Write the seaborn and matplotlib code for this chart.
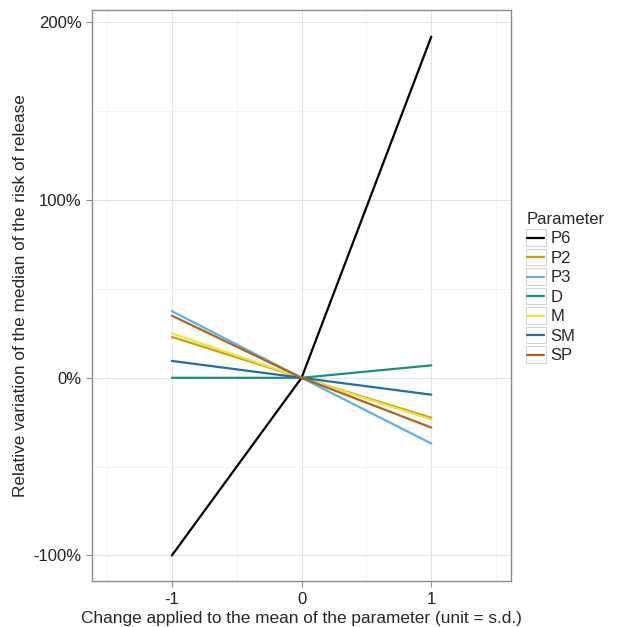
import numpy as np
import pandas as pd
import matplotlib
matplotlib.use("Agg")
import matplotlib.pyplot as plt
import seaborn as sns
from matplotlib.ticker import FuncFormatter, MultipleLocator
from matplotlib.legend_handler import HandlerLine2D
from matplotlib.patches import Rectangle

# ---------- data ----------
params = ['P6', 'P2', 'P3', 'D', 'M', 'SM', 'SP']
shift = [-1, 0, 1]
p6 = [-100, 0, 192]
p2 = [23, 0, -22.5]
p3 = [37.5, 0, -37]
d = [0, 0, 7]
m = [25, 0, -23.5]
sm = [9.5, 0, -9.5]
sp = [35, 0, -28]
colors = ['#000000', '#C9A200', '#56B4E9', '#16937A', '#EFE23F', '#1F6FA8', '#B4611E']

series = dict(zip(params, [p6, p2, p3, d, m, sm, sp]))
df = pd.DataFrame([
    {'Parameter': p, 'shift': x, 'value': v}
    for p, vals in series.items() for x, v in zip(shift, vals)
])


# legend key with a grey box behind the line, like ggplot
class BoxedLine(HandlerLine2D):
    def create_artists(self, legend, orig_handle, xdescent, ydescent,
                       width, height, fontsize, trans):
        arts = super().create_artists(legend, orig_handle, xdescent, ydescent,
                                      width, height, fontsize, trans)
        gap = legend.labelspacing * fontsize
        yc = (height - ydescent) / 2
        h = height + gap + 0.3
        rect = Rectangle((-xdescent - 1, yc - h / 2), width + 2, h,
                         facecolor='white', edgecolor='#D5D5D5', linewidth=0.8,
                         transform=trans)
        return [rect] + arts


sns.set_style("white")
plt.rcParams['font.family'] = ['Liberation Sans', 'DejaVu Sans']

fig = plt.figure(figsize=(6.18, 6.27), dpi=100)
ax = fig.add_axes([0.149, 0.073, 0.678, 0.911])

sns.lineplot(data=df, x='shift', y='value', hue='Parameter', hue_order=params,
             palette=dict(zip(params, colors)), linewidth=1.6, ax=ax)

ax.set_xlim(-1.615, 1.615)
ax.set_ylim(-114.5, 207)
ax.xaxis.set_major_locator(MultipleLocator(1))
ax.xaxis.set_minor_locator(MultipleLocator(0.5))
ax.yaxis.set_major_locator(MultipleLocator(100))
ax.yaxis.set_minor_locator(MultipleLocator(50))
ax.yaxis.set_major_formatter(FuncFormatter(lambda v, _: f'{v:.0f}%'))
ax.xaxis.set_major_formatter(FuncFormatter(lambda v, _: f'{v:.0f}'))
ax.grid(which='major', color='#E3E3E3', linewidth=0.8)
ax.grid(which='minor', color='#F2F2F2', linewidth=0.6)
ax.set_axisbelow(True)
for s in ax.spines.values():
    s.set_color('#8C8C8C')
    s.set_linewidth(1.0)
ax.tick_params(which='major', length=4, color='#8C8C8C', labelsize=12,
               labelcolor='#222222', direction='out', bottom=True, left=True)
ax.tick_params(which='minor', length=0)

ax.set_xlabel('Change applied to the mean of the parameter (unit = s.d.)',
              fontsize=12.4, labelpad=3)
ax.set_ylabel('Relative variation of the median of the risk of release',
              fontsize=12.4, labelpad=4)

handles, labels = ax.get_legend_handles_labels()
leg = ax.legend(handles, labels, title='Parameter', loc='upper left',
                bbox_to_anchor=(1.01, 0.667), frameon=False,
                fontsize=12, title_fontsize=12,
                handlelength=1.05, handletextpad=0.35, labelspacing=0.27,
                alignment='left', borderaxespad=0.3,
                handler_map={type(handles[0]): BoxedLine()})

fig.savefig('out.png', dpi=100)
